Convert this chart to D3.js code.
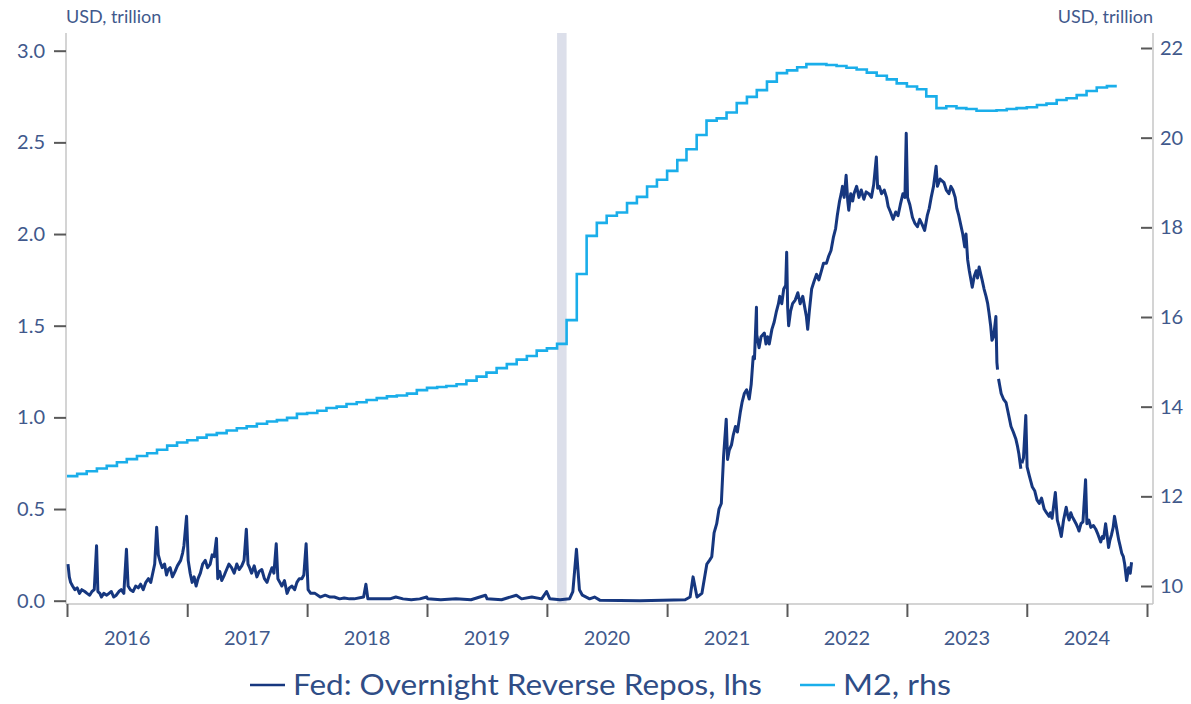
<!DOCTYPE html>
<html><head><meta charset="utf-8">
<script src="https://cdn.jsdelivr.net/npm/d3@7"></script>
<style>
body{margin:0;background:#fff;}
svg{display:block;font-family:Lato,"Open Sans",sans-serif;}
</style></head>
<body><svg id="c" width="1191" height="704"></svg>
<script>
// ---- data ----
const yearLabels = ["2016","2017","2018","2019","2020","2021","2022","2023","2024"];
const leftTicks = [0,0.5,1,1.5,2,2.5,3];
const rightTicks = [10,12,14,16,18,20,22];
const unitLabel = "USD, trillion";
const seriesNames = ["Fed: Overnight Reverse Repos, lhs","M2, rhs"];
const recession = ["2020-02-01","2020-03-01"];

// M2 monthly values (USD trillion), Jan 2016 ... Sep 2024
const m2Start = "2016-01-01";
const m2Values = [
 12.45,12.50,12.56,12.62,12.68,12.76,12.83,12.90,12.96,13.04,13.13,13.20,
 13.25,13.31,13.37,13.41,13.47,13.52,13.56,13.62,13.67,13.70,13.75,13.84,
 13.86,13.91,13.97,14.00,14.06,14.10,14.15,14.19,14.23,14.25,14.29,14.37,
 14.42,14.44,14.46,14.50,14.58,14.67,14.76,14.86,14.95,15.05,15.13,15.25,
 15.30,15.40,15.93,16.96,17.81,18.10,18.26,18.33,18.54,18.68,18.91,19.06,
 19.26,19.50,19.74,20.06,20.38,20.43,20.56,20.77,20.91,21.06,21.25,21.44,
 21.50,21.57,21.64,21.64,21.62,21.60,21.56,21.52,21.45,21.38,21.30,21.21,
 21.14,21.08,20.92,20.66,20.70,20.66,20.64,20.60,20.60,20.61,20.64,20.66,
 20.68,20.73,20.76,20.84,20.88,20.95,21.04,21.12,21.15
];
const m2End = "2024-10-01";

// Fed overnight reverse repos (USD trillion): [date, value], null = missing
const rrpPoints = [
 ["2016-01-04",0.20],["2016-01-08",0.13],["2016-01-12",0.10],["2016-01-18",0.08],["2016-01-25",0.06],["2016-02-01",0.07],
 ["2016-02-08",0.04],["2016-02-15",0.06],["2016-02-24",0.05],["2016-03-02",0.04],["2016-03-10",0.03],["2016-03-17",0.05],
 ["2016-03-24",0.06],["2016-03-31",0.30],["2016-04-04",0.05],["2016-04-10",0.04],["2016-04-15",0.02],["2016-04-22",0.04],
 ["2016-05-01",0.03],["2016-05-08",0.04],["2016-05-15",0.05],["2016-05-22",0.02],["2016-05-30",0.03],["2016-06-07",0.05],
 ["2016-06-14",0.06],["2016-06-22",0.04],["2016-06-30",0.28],["2016-07-05",0.08],["2016-07-12",0.06],["2016-07-20",0.05],
 ["2016-07-28",0.08],["2016-08-05",0.07],["2016-08-12",0.09],["2016-08-20",0.06],["2016-08-28",0.10],["2016-09-05",0.12],
 ["2016-09-12",0.10],["2016-09-18",0.15],["2016-09-24",0.20],["2016-09-30",0.40],["2016-10-05",0.25],["2016-10-11",0.21],
 ["2016-10-17",0.18],["2016-10-24",0.20],["2016-10-30",0.14],["2016-11-04",0.17],["2016-11-10",0.18],["2016-11-17",0.13],
 ["2016-11-25",0.16],["2016-12-02",0.19],["2016-12-12",0.22],["2016-12-18",0.26],["2016-12-22",0.30],["2016-12-30",0.46],
 ["2017-01-04",0.22],["2017-01-10",0.15],["2017-01-16",0.10],["2017-01-22",0.13],["2017-01-28",0.08],["2017-02-03",0.12],
 ["2017-02-10",0.15],["2017-02-17",0.20],["2017-02-25",0.22],["2017-03-04",0.18],["2017-03-12",0.20],["2017-03-18",0.25],
 ["2017-03-24",0.24],["2017-03-31",0.34],["2017-04-04",0.12],["2017-04-10",0.16],["2017-04-16",0.11],["2017-04-24",0.14],
 ["2017-05-01",0.17],["2017-05-08",0.20],["2017-05-16",0.18],["2017-05-24",0.15],["2017-06-01",0.20],["2017-06-08",0.17],
 ["2017-06-16",0.19],["2017-06-23",0.22],["2017-06-30",0.39],["2017-07-05",0.20],["2017-07-10",0.18],["2017-07-16",0.15],
 ["2017-07-24",0.19],["2017-08-01",0.13],["2017-08-08",0.16],["2017-08-16",0.17],["2017-08-24",0.12],["2017-09-01",0.10],
 ["2017-09-08",0.14],["2017-09-16",0.18],["2017-09-22",0.15],["2017-09-29",0.31],["2017-10-04",0.12],["2017-10-10",0.10],
 ["2017-10-16",0.08],["2017-10-24",0.11],["2017-11-01",0.04],["2017-11-08",0.07],["2017-11-16",0.08],["2017-11-24",0.06],
 ["2017-12-01",0.10],["2017-12-08",0.12],["2017-12-16",0.12],["2017-12-22",0.14],["2017-12-29",0.31],["2018-01-04",0.06],
 ["2018-01-12",0.04],["2018-01-25",0.04],["2018-02-10",0.02],["2018-02-25",0.03],["2018-03-12",0.02],["2018-03-25",0.02],
 ["2018-04-10",0.01],["2018-04-24",0.015],["2018-05-10",0.01],["2018-05-24",0.01],["2018-06-22",0.02],["2018-06-29",0.09],
 ["2018-07-05",0.01],["2018-08-12",0.01],["2018-09-10",0.01],["2018-09-28",0.02],["2018-10-20",0.01],["2018-11-14",0.005],
 ["2018-12-10",0.01],["2018-12-31",0.02],["2019-01-03",0.01],["2019-02-12",0.005],["2019-03-30",0.01],["2019-05-15",0.005],
 ["2019-06-28",0.03],["2019-07-03",0.01],["2019-08-16",0.005],["2019-09-30",0.03],["2019-10-16",0.01],["2019-11-16",0.02],
 ["2019-12-16",0.01],["2019-12-31",0.05],["2020-01-10",0.01],["2020-02-10",0.005],["2020-03-10",0.01],["2020-03-20",0.05],
 ["2020-03-31",0.28],["2020-04-09",0.06],["2020-04-18",0.03],["2020-05-10",0.01],["2020-05-25",0.02],["2020-06-10",0.003],
 ["2020-10-10",0.0],["2021-02-25",0.005],["2021-03-12",0.02],["2021-03-21",0.13],["2021-04-02",0.02],["2021-04-17",0.04],
 ["2021-05-02",0.20],["2021-05-10",0.22],["2021-05-17",0.24],["2021-05-24",0.37],["2021-06-01",0.42],["2021-06-08",0.50],
 ["2021-06-15",0.53],["2021-06-22",0.79],["2021-06-30",0.99],["2021-07-04",0.77],["2021-07-09",0.82],["2021-07-16",0.85],
 ["2021-07-21",0.90],["2021-07-28",0.95],["2021-08-03",0.92],["2021-08-12",1.03],["2021-08-17",1.08],["2021-08-24",1.13],
 ["2021-08-31",1.15],["2021-09-08",1.10],["2021-09-14",1.18],["2021-09-20",1.33],["2021-09-24",1.32],["2021-09-30",1.60],
 ["2021-10-01",1.45],["2021-10-08",1.38],["2021-10-14",1.44],["2021-10-24",1.46],["2021-10-29",1.40],["2021-11-03",1.44],
 ["2021-11-08",1.40],["2021-11-16",1.48],["2021-11-23",1.52],["2021-11-30",1.58],["2021-12-06",1.62],["2021-12-10",1.66],
 ["2021-12-16",1.62],["2021-12-22",1.70],["2021-12-28",1.72],["2021-12-31",1.90],["2022-01-03",1.60],["2022-01-06",1.50],
 ["2022-01-12",1.58],["2022-01-18",1.62],["2022-01-26",1.64],["2022-02-03",1.68],["2022-02-10",1.62],["2022-02-18",1.66],
 ["2022-02-24",1.60],["2022-03-01",1.55],["2022-03-05",1.48],["2022-03-10",1.58],["2022-03-17",1.70],["2022-03-24",1.74],
 ["2022-04-01",1.78],["2022-04-08",1.75],["2022-04-16",1.80],["2022-04-22",1.84],["2022-05-01",1.84],["2022-05-08",1.88],
 ["2022-05-15",1.91],["2022-05-22",1.98],["2022-05-29",2.03],["2022-06-03",2.10],["2022-06-10",2.18],["2022-06-15",2.22],
 ["2022-06-19",2.26],["2022-06-24",2.20],["2022-06-30",2.32],["2022-07-05",2.18],["2022-07-08",2.13],["2022-07-14",2.22],
 ["2022-07-20",2.18],["2022-07-24",2.22],["2022-08-01",2.26],["2022-08-08",2.20],["2022-08-15",2.24],["2022-08-23",2.19],
 ["2022-08-30",2.23],["2022-09-07",2.22],["2022-09-15",2.20],["2022-09-22",2.27],["2022-09-30",2.42],["2022-10-04",2.25],
 ["2022-10-09",2.26],["2022-10-16",2.22],["2022-10-24",2.24],["2022-10-31",2.20],["2022-11-05",2.15],["2022-11-12",2.12],
 ["2022-11-20",2.08],["2022-11-28",2.12],["2022-12-05",2.10],["2022-12-12",2.16],["2022-12-20",2.22],["2022-12-26",2.20],
 ["2022-12-30",2.55],["2023-01-03",2.20],["2023-01-10",2.16],["2023-01-18",2.09],["2023-01-25",2.06],["2023-02-02",2.04],
 ["2023-02-09",2.08],["2023-02-17",2.05],["2023-02-24",2.02],["2023-03-04",2.10],["2023-03-10",2.14],["2023-03-16",2.20],
 ["2023-03-23",2.26],["2023-03-31",2.37],["2023-04-04",2.26],["2023-04-12",2.30],["2023-04-24",2.28],["2023-05-01",2.24],
 ["2023-05-09",2.22],["2023-05-15",2.26],["2023-05-21",2.24],["2023-05-28",2.20],["2023-06-02",2.14],["2023-06-08",2.10],
 ["2023-06-14",2.05],["2023-06-20",2.00],["2023-06-26",1.93],["2023-06-30",2.00],["2023-07-05",1.86],["2023-07-10",1.80],
 ["2023-07-14",1.76],["2023-07-19",1.71],["2023-07-25",1.77],["2023-07-31",1.80],["2023-08-04",1.76],["2023-08-09",1.82],
 ["2023-08-14",1.78],["2023-08-18",1.75],["2023-08-24",1.70],["2023-08-30",1.66],["2023-09-04",1.62],["2023-09-08",1.57],
 ["2023-09-13",1.50],["2023-09-17",1.42],["2023-09-22",1.44],["2023-09-29",1.55],["2023-10-02",1.30],["2023-10-04",1.26],
 ["2023-10-05",null],["2023-10-07",1.21],["2023-10-11",1.17],["2023-10-15",1.13],["2023-10-22",1.10],["2023-10-30",1.08],
 ["2023-11-06",1.02],["2023-11-14",0.95],["2023-11-21",0.92],["2023-11-29",0.88],["2023-12-04",0.84],["2023-12-08",0.80],
 ["2023-12-14",0.72],["2023-12-15",null],["2023-12-17",0.75],["2023-12-22",0.78],["2023-12-29",1.01],["2024-01-02",0.73],
 ["2024-01-09",0.68],["2024-01-18",0.62],
 ["2024-01-25",0.60],["2024-02-01",0.55],["2024-02-08",0.53],["2024-02-15",0.56],["2024-02-23",0.50],["2024-03-01",0.48],
 ["2024-03-09",0.46],["2024-03-13",0.48],["2024-03-18",0.45],["2024-03-28",0.59],["2024-04-03",0.44],["2024-04-09",0.40],
 ["2024-04-15",0.35],["2024-04-22",0.44],["2024-04-30",0.51],["2024-05-04",0.47],["2024-05-09",0.44],["2024-05-14",0.48],
 ["2024-05-18",0.46],["2024-05-24",0.44],["2024-05-30",0.42],["2024-06-04",0.40],["2024-06-08",0.38],["2024-06-14",0.42],
 ["2024-06-20",0.43],["2024-06-28",0.66],["2024-07-02",0.42],["2024-07-08",0.44],["2024-07-14",0.40],["2024-07-22",0.41],
 ["2024-07-29",0.39],["2024-08-05",0.36],["2024-08-13",0.32],["2024-08-18",0.35],["2024-08-22",0.34],["2024-08-28",0.42],
 ["2024-09-02",0.35],["2024-09-06",0.29],["2024-09-10",0.33],["2024-09-15",0.36],["2024-09-20",0.40],["2024-09-24",0.46],
 ["2024-09-30",0.40],["2024-10-07",0.33],["2024-10-11",0.30],["2024-10-16",0.26],["2024-10-21",0.24],["2024-10-25",0.20],
 ["2024-10-31",0.11],["2024-11-06",0.18],["2024-11-11",0.15],["2024-11-15",0.21]
];

// ---- chart ----
const svg = d3.select("#c");
const parse = d3.timeParse("%Y-%m-%d");
const x = d3.scaleTime().domain([parse("2016-01-01"), parse("2025-01-01")]).range([67, 1147]);
const yL = d3.scaleLinear().domain([0, 3]).range([600.7, 50.7]);
const yR = d3.scaleLinear().domain([10, 22]).range([586, 48]);
const axisX0 = 66, axisX1 = 1153, axisY = 604, axisTop = 33;
const tickColor = "#595959", lineColor = "#c6c6c6", textColor = "#41598c";
const navy = "#16377f", cyan = "#1aaeea";

// recession band
svg.append("rect")
  .attr("x", x(parse(recession[0]))).attr("width", x(parse(recession[1])) - x(parse(recession[0])))
  .attr("y", axisTop).attr("height", axisY - axisTop).attr("fill", "#dcdfea");

// axis lines
svg.append("line").attr("x1", axisX0).attr("x2", axisX0).attr("y1", axisTop).attr("y2", axisY).attr("stroke", lineColor).attr("stroke-width", 1.5);
svg.append("line").attr("x1", axisX1).attr("x2", axisX1).attr("y1", axisTop).attr("y2", axisY).attr("stroke", lineColor).attr("stroke-width", 1.5);
svg.append("line").attr("x1", axisX0).attr("x2", axisX1).attr("y1", axisY).attr("y2", axisY).attr("stroke", lineColor).attr("stroke-width", 1.5);

// left axis
const gL = svg.append("g").attr("transform", `translate(${axisX0},0)`)
  .call(d3.axisLeft(yL).tickValues(leftTicks).tickFormat(d3.format(".1f")).tickSize(12).tickPadding(9));
// right axis (ticks pointing inward)
const gR = svg.append("g").attr("transform", `translate(${axisX1},0)`)
  .call(d3.axisRight(yR).tickValues(rightTicks).tickFormat(d3.format("d")).tickSizeInner(-11).tickSizeOuter(0).tickPadding(7));
// bottom axis (year boundary ticks)
const yearStarts = d3.timeYear.range(parse("2016-01-01"), parse("2025-01-02"));
const gB = svg.append("g").attr("transform", `translate(0,${axisY})`)
  .call(d3.axisBottom(x).tickValues(yearStarts).tickFormat("").tickSize(13));
[gL, gR, gB].forEach(g => {
  g.select(".domain").remove();
  g.selectAll(".tick line").attr("stroke", tickColor).attr("stroke-width", 2);
  g.selectAll(".tick text").attr("fill", textColor).style("font-size", "20px").style("font-family", "Lato");
});
gR.selectAll(".tick line").attr("transform", "translate(-1,0)");

// year labels centered in each year
svg.append("g").selectAll("text").data(yearLabels).join("text")
  .attr("x", d => (x(parse(d + "-01-01")) + x(parse((+d + 1) + "-01-01"))) / 2)
  .attr("y", 645).attr("text-anchor", "middle")
  .attr("fill", textColor).style("font-size", "20px").text(d => d);

// unit labels
svg.append("text").attr("x", axisX0).attr("y", 23).attr("fill", textColor).style("font-size", "18px").text(unitLabel);
svg.append("text").attr("x", axisX1).attr("y", 23).attr("text-anchor", "end").attr("fill", textColor).style("font-size", "18px").text(unitLabel);

// M2 step line
const m2Data = m2Values.map((v, i) => ({ date: d3.timeMonth.offset(parse(m2Start), i), v }));
m2Data.push({ date: parse(m2End), v: m2Values[m2Values.length - 1] });
svg.append("path").datum(m2Data)
  .attr("fill", "none").attr("stroke", cyan).attr("stroke-width", 2.6).attr("stroke-linejoin", "miter")
  .attr("d", d3.line().curve(d3.curveStepAfter).x(d => x(d.date)).y(d => yR(d.v)));

// RRP line
const rrpData = rrpPoints.map(([d, v]) => ({ date: parse(d), v }));
svg.append("path").datum(rrpData)
  .attr("fill", "none").attr("stroke", navy).attr("stroke-width", 3).attr("stroke-linejoin", "round")
  .attr("d", d3.line().defined(d => d.v !== null).x(d => x(d.date)).y(d => yL(d.v)));

// legend
const legend = [
  { name: seriesNames[0], color: navy, x0: 250, w: 469 },
  { name: seriesNames[1], color: cyan, x0: 800, w: 108 }
];
legend.forEach(l => {
  svg.append("line").attr("x1", l.x0).attr("x2", l.x0 + 35).attr("y1", 685).attr("y2", 685)
    .attr("stroke", l.color).attr("stroke-width", 2.6);
  svg.append("text").attr("x", l.x0 + 43).attr("y", 695).attr("fill", "#2f4d86")
    .attr("textLength", l.w).attr("lengthAdjust", "spacingAndGlyphs")
    .style("font-size", "28px").text(l.name);
});
</script></body></html>
